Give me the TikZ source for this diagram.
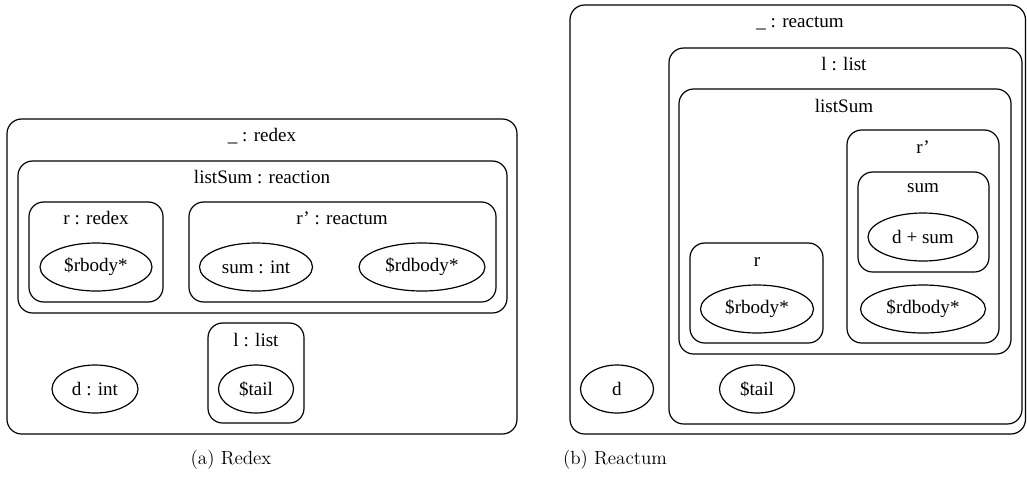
\documentclass[tikz,border=0pt]{standalone}
\usepackage{fontspec}
\newfontfamily\diagfont{Liberation Serif}
\usetikzlibrary{fit,shapes.geometric}
\tikzset{
	box/.style={draw, line width=0.9pt, rounded corners=11pt, inner sep=0pt},
	oval/.style={draw, line width=0.9pt, ellipse, inner sep=0pt, minimum height=36pt},
	lbl/.style={font=\diagfont\fontsize{14.3}{17}\selectfont, inner sep=0pt}
}
\begin{document}
\begin{tikzpicture}[x=0.75pt, y=-0.75pt, every node/.style={lbl}]
		\useasboundingbox (0,0) rectangle (1027,497);
		\node[box, fit={(7,119) (517,434)}] (redex) {};
		\node at (262,136) (redexT) {\_ : redex};
		\node[box, fit={(18,161) (507,313)}] (reaction) {};
		\node at (262,177) (reactionT) {listSum : reaction};
		\node[box, fit={(29,202) (163,302)}] (rl) {};
		\node at (96,218) (rlT) {r : redex};
		\node[oval, minimum width=84pt] at (96,267) (rbodyl) {\$rbody*};
		\node[box, fit={(189,202) (496,302)}] (rpl) {};
		\node at (342,218) (rplT) {r’ : reactum};
		\node[oval, minimum width=84.75pt] at (256,267) (suml) {sum : int};
		\node[oval, minimum width=94.5pt] at (422,267) (rdbodyl) {\$rdbody*};
		\node[box, fit={(208,323) (304,423)}] (listl) {};
		\node at (256,340) (listlT) {l : list};
		\node[oval, minimum width=56.25pt] at (256,389) (taill) {\$tail};
		\node[oval, minimum width=64.5pt] at (95,389) (dl) {d : int};
		\node[box, fit={(570,5) (1025.5,434)}] (reactum) {};
		\node at (800,23) (reactumT) {\_ : reactum};
		\node[box, fit={(669,48) (1022,424)}] (listr) {};
		\node at (844,64) (listrT) {l : list};
		\node[box, fit={(679,89) (1011,354)}] (sumr) {};
		\node at (844,106) (sumrT) {listSum};
		\node[box, fit={(847,130) (999,343)}] (rpr) {};
		\node at (923,147) (rprT) {r’};
		\node[box, fit={(858,172) (989,272)}] (sumbox) {};
		\node at (923,188) (sumboxT) {sum};
		\node[oval, minimum width=82.5pt] at (923,237) (dsum) {d + sum};
		\node[oval, minimum width=93.75pt] at (923,309) (rdbodyr) {\$rdbody*};
		\node[box, fit={(690,243) (823,343)}] (rr) {};
		\node at (757,262) (rrT) {r};
		\node[oval, minimum width=84.75pt] at (757,309) (rbodyr) {\$rbody*};
		\node[oval, minimum width=56.25pt] at (757,389) (tailr) {\$tail};
		\node[oval, minimum width=54.75pt] at (617,389) (dr) {d};
		\node[font=\fontsize{14.3}{17}\selectfont] at (231,460) (capa) {(a) Redex};
		\node[font=\fontsize{14.3}{17}\selectfont] at (615,460) (capb) {(b) Reactum};
	\end{tikzpicture}
\end{document}
